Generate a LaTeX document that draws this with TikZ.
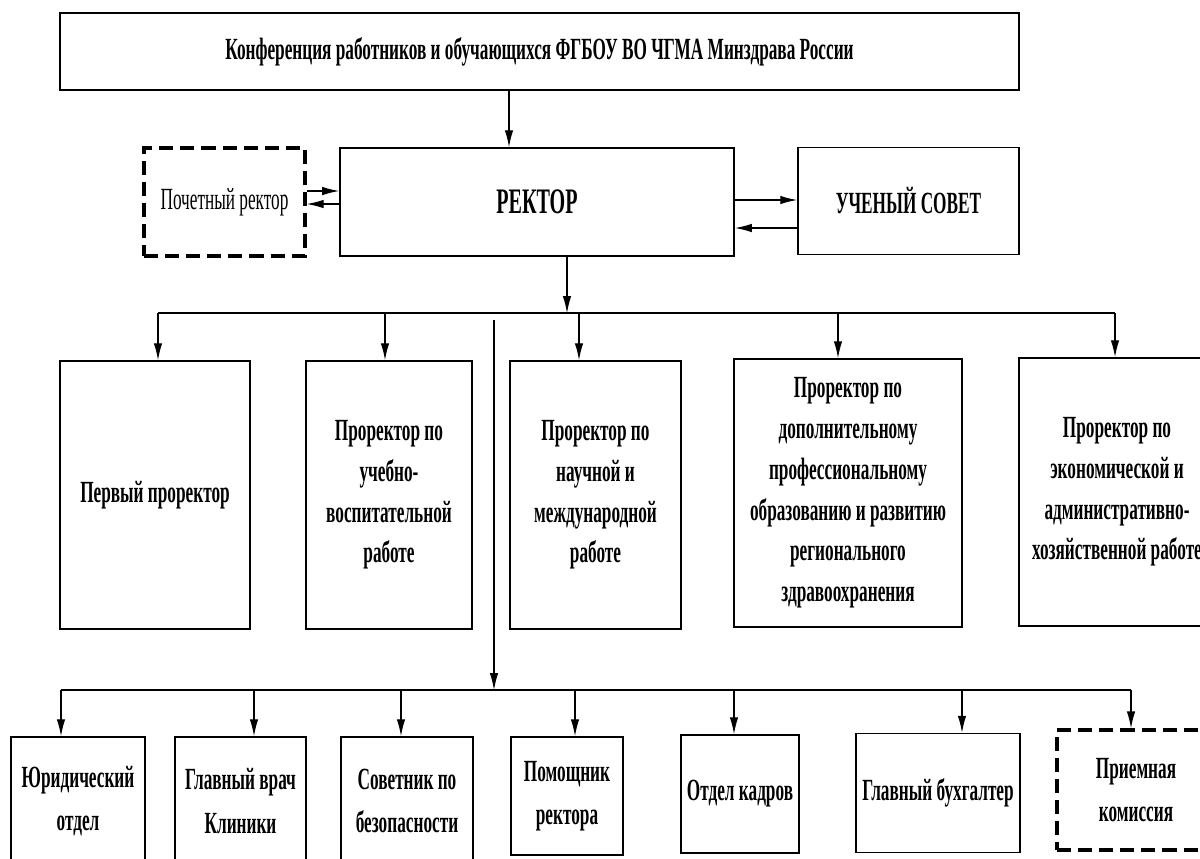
\documentclass[tikz,border=0pt]{standalone}
\usepackage{fontspec}
\setmainfont{Liberation Serif}[FakeStretch=0.56]
\usetikzlibrary{arrows.meta}

\begin{document}
\begin{tikzpicture}[x=0.025cm,y=-0.025cm,
  box/.style={draw,line width=1.2pt,inner sep=0pt,align=center,
    font=\fontsize{21.9}{29}\selectfont\bfseries},
  lowbox/.style={box,font=\fontsize{21.9}{31}\selectfont\bfseries},
  dbox/.style={box,line width=2.4pt,dash pattern=on 10pt off 5pt},
  arr/.style={-{Latex[length=12pt,width=6pt]},line width=0.8pt},
  bus/.style={line width=1.3pt}]
\useasboundingbox (0,0) rectangle (1200,858);
% top level
\node[box,line width=1.6pt,minimum width=23.975cm,minimum height=1.925cm] (konf) at (539.5,51.5)
  {Конференция работников и обучающихся ФГБОУ ВО ЧГМА Минздрава России};
\node[dbox,font=\fontsize{21.9}{29}\selectfont,minimum width=4.025cm,minimum height=2.7cm] (pochet) at (224.5,202) {Почетный ректор};
\node[box,font=\fontsize{25.5}{29}\selectfont\bfseries,minimum width=9.85cm,minimum height=2.7cm] (rektor) at (537,202) {РЕКТОР};
\node[box,minimum width=5.525cm,minimum height=2.675cm] (sovet) at (908.5,201) {УЧЕНЫЙ СОВЕТ};
% prorectors
\node[box,minimum width=4.75cm,minimum height=6.7cm] (pr1) at (155,495) {Первый проректор};
\node[box,minimum width=4.15cm,minimum height=6.7cm] (pr2) at (389,495) {Проректор по\\учебно-\\воспитательной\\работе};
\node[box,minimum width=4.275cm,minimum height=6.7cm] (pr3) at (595.5,495) {Проректор по\\научной и\\международной\\работе};
\node[box,minimum width=5.7cm,minimum height=6.7cm] (pr4) at (848,493) {Проректор по\\дополнительному\\профессиональному\\образованию и развитию\\регионального\\здравоохранения};
\node[box,minimum width=4.9cm,minimum height=6.7cm] (pr5) at (1117,492) {Проректор по\\экономической и\\административно-\\хозяйственной работе};
% departments
\node[lowbox,minimum width=3.35cm,minimum height=3.2cm] (otd1) at (78,801) {Юридический\\отдел};
\node[lowbox,minimum width=3.275cm,minimum height=3.2cm] (otd2) at (240.5,801) {Главный врач\\Клиники};
\node[lowbox,minimum width=3.3cm,minimum height=3.2cm] (otd3) at (407,801) {Советник по\\безопасности};
\node[lowbox,minimum width=2.8cm,minimum height=2.95cm] (otd4) at (567,796) {Помощник\\ректора};
\node[lowbox,minimum width=2.95cm,minimum height=2.95cm] (otd5) at (740,794) {Отдел кадров};
\node[lowbox,minimum width=4.1cm,minimum height=2.975cm] (otd6) at (938,793) {Главный бухгалтер};
\node[dbox,font=\fontsize{21.9}{31}\selectfont\bfseries,minimum width=3.95cm,minimum height=3cm] (otd7) at (1136,790) {Приемная\\комиссия};
% connectors
\draw[arr] (konf.south -| 509,0) -- (rektor.north -| 509,0);
\draw[arr] (pochet.east |- 0,191) -- (rektor.west |- 0,191);
\draw[arr] (rektor.west |- 0,204) -- (pochet.east |- 0,204);
\draw[arr] (rektor.east |- 0,200) -- (sovet.west |- 0,200);
\draw[arr] (sovet.west |- 0,228) -- (rektor.east |- 0,228);
\coordinate (busA1) at (158,313);
\coordinate (busA2) at (1115,313);
\coordinate (busB1) at (61,690);
\coordinate (busB2) at (1131,690);
\coordinate (vniz) at (494,320);
\draw[arr] (rektor.south -| 567,0) -- (567,313);
\draw[bus] (busA1) -- (busA2);
\foreach \x/\n in {158/pr1,385/pr2,579/pr3,838/pr4,1115/pr5}
  \draw[arr] (\x,313) -- (\x,313 |- \n.north);
\draw[arr] (vniz) -- (vniz |- busB1);
\draw[bus] (busB1) -- (busB2);
\foreach \x/\n in {61/otd1,254/otd2,401/otd3,575/otd4,734/otd5,962/otd6,1131/otd7}
  \draw[arr] (\x,690) -- (\x,690 |- \n.north);
\end{tikzpicture}
\end{document}
